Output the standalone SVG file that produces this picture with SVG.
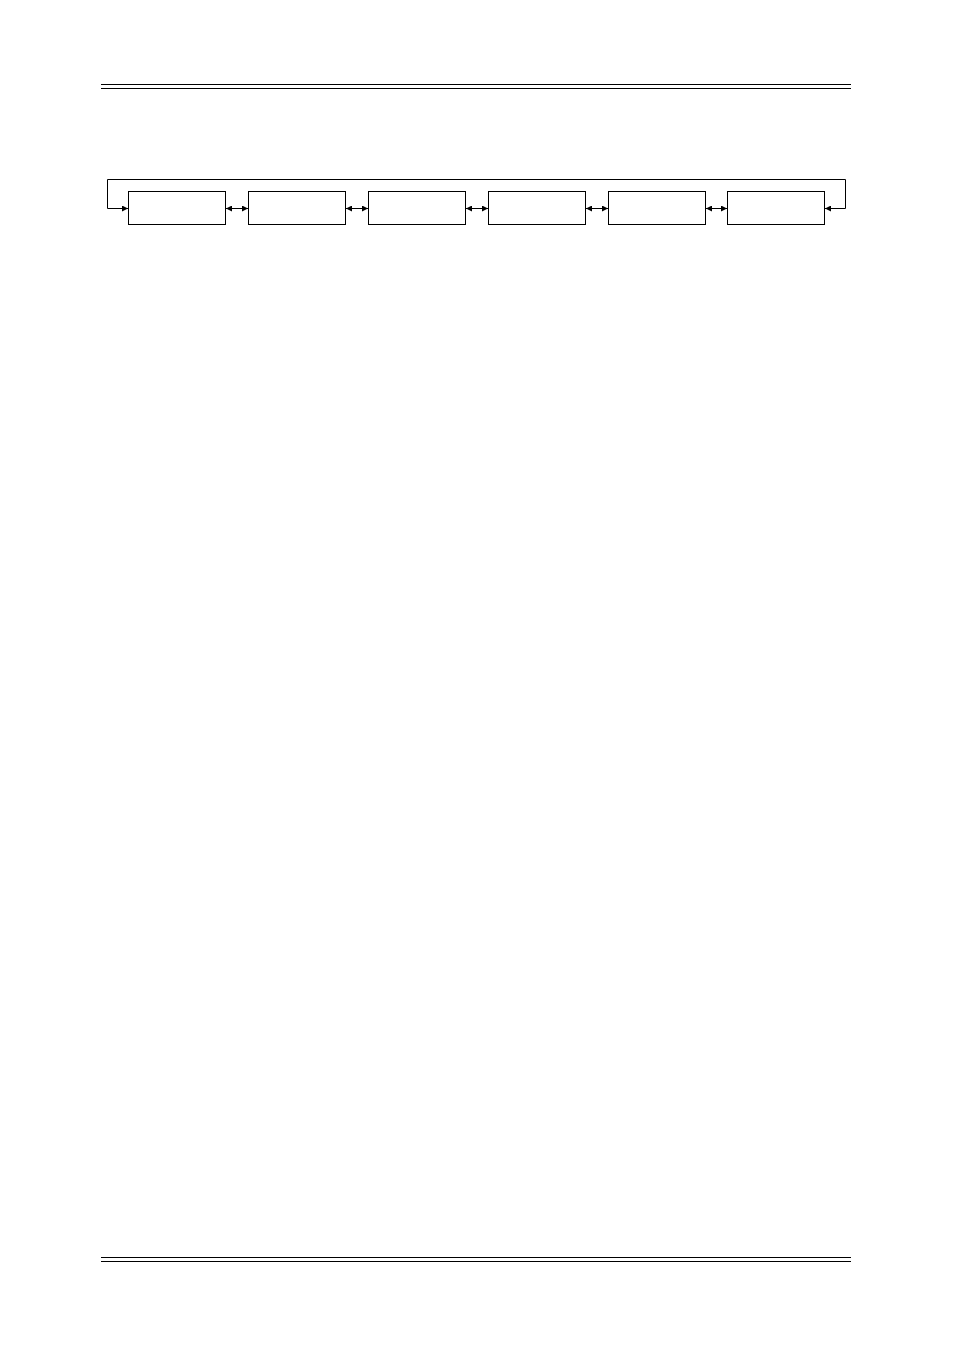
<svg xmlns="http://www.w3.org/2000/svg" width="954" height="1350" viewBox="0 0 954 1350">
<defs>
<style>
.rule{stroke:#000;stroke-width:1.2;fill:none}
.box{fill:#fff;stroke:#000;stroke-width:1}
.conn{stroke:#000;stroke-width:1;fill:none}
</style>
<marker id="ah" viewBox="0 0 10 10" refX="10" refY="5" markerWidth="6" markerHeight="6" markerUnits="userSpaceOnUse" orient="auto-start-reverse">
<path d="M0,0 L10,5 L0,10 z" fill="#000"/>
</marker>
</defs>
<rect width="954" height="1350" fill="#fff"/>
<g id="header">
<line class="rule" x1="101" y1="84.5" x2="851" y2="84.5"/>
<line class="rule" x1="101" y1="88.5" x2="851" y2="88.5"/>
</g>
<g id="footer">
<line class="rule" x1="101" y1="1257.5" x2="851" y2="1257.5"/>
<line class="rule" x1="101" y1="1261.5" x2="851" y2="1261.5"/>
</g>
<g id="node1"><rect class="box" x="128.5" y="191.5" width="97" height="33"/></g>
<g id="node2"><rect class="box" x="248.5" y="191.5" width="97" height="33"/></g>
<g id="node3"><rect class="box" x="368.5" y="191.5" width="97" height="33"/></g>
<g id="node4"><rect class="box" x="488.5" y="191.5" width="97" height="33"/></g>
<g id="node5"><rect class="box" x="608.5" y="191.5" width="97" height="33"/></g>
<g id="node6"><rect class="box" x="727.5" y="191.5" width="97" height="33"/></g>
<g id="connectors">
<polyline class="conn" points="845.5,179.5 107.5,179.5 107.5,208.5 128,208.5" marker-end="url(#ah)"/>
<polyline class="conn" points="845.5,179.5 845.5,208.5 825,208.5" marker-end="url(#ah)"/>
<line class="conn" x1="226" y1="208.5" x2="248" y2="208.5" marker-start="url(#ah)" marker-end="url(#ah)"/>
<line class="conn" x1="346" y1="208.5" x2="368" y2="208.5" marker-start="url(#ah)" marker-end="url(#ah)"/>
<line class="conn" x1="466" y1="208.5" x2="488" y2="208.5" marker-start="url(#ah)" marker-end="url(#ah)"/>
<line class="conn" x1="586" y1="208.5" x2="608" y2="208.5" marker-start="url(#ah)" marker-end="url(#ah)"/>
<line class="conn" x1="706" y1="208.5" x2="727" y2="208.5" marker-start="url(#ah)" marker-end="url(#ah)"/>
</g>
</svg>
